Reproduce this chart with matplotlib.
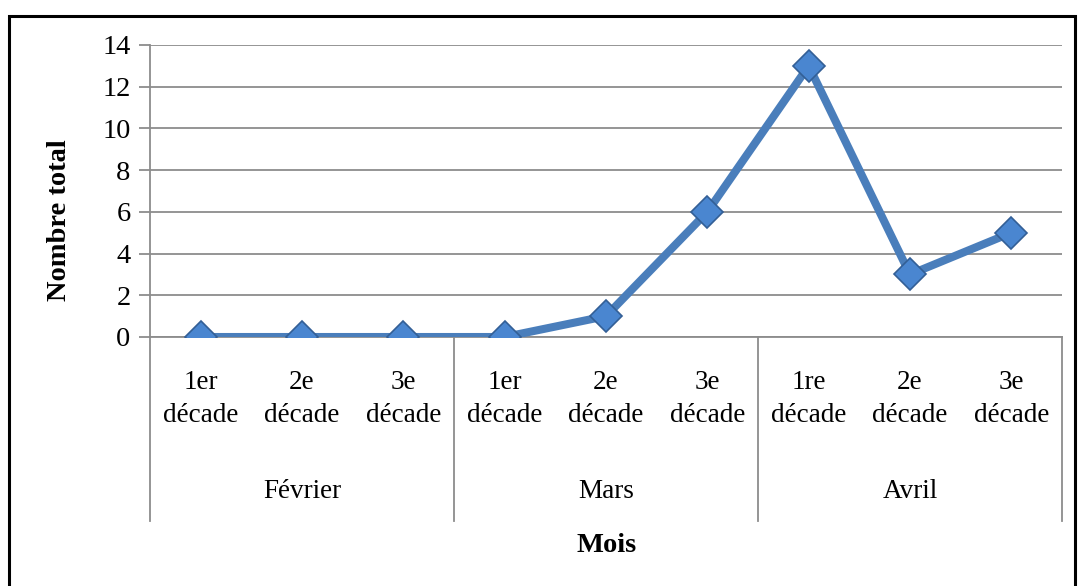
import matplotlib.pyplot as plt
import matplotlib.transforms as mtransforms
from matplotlib.patches import Rectangle

plt.rcParams["font.family"] = ["Liberation Serif", "DejaVu Serif"]

decades = ["1er\ndécade", "2e\ndécade", "3e\ndécade",
           "1er\ndécade", "2e\ndécade", "3e\ndécade",
           "1re\ndécade", "2e\ndécade", "3e\ndécade"]
months = ["Février", "Mars", "Avril"]
totals = [0, 0, 0, 0, 1, 6, 13, 3, 5]
y_ticks = [0, 2, 4, 6, 8, 10, 12, 14]

W, H = 1078, 586
fig = plt.figure(figsize=(W / 100, H / 100), dpi=100)
ax = fig.add_axes([150 / W, 1 - 337 / H, (1062 - 150) / W, (337 - 45) / H])

grid_col = "#8c8c8c"
x = list(range(len(totals)))
ax.plot(x, totals, color="#4a7ebb", lw=5.8, solid_joinstyle="miter",
        marker="D", ms=16, mfc="#4a86d0", mec="#335f96", mew=1.2, zorder=3)

ax.set_xlim(-0.5, len(totals) - 0.5)
ax.set_ylim(0, 14)
ax.set_yticks(y_ticks)
ax.set_xticks([])
ax.yaxis.grid(True, color=grid_col, lw=1.3)
ax.set_axisbelow(True)
for s in ["top", "right"]:
    ax.spines[s].set_visible(False)
ax.spines["left"].set_color(grid_col)
ax.spines["bottom"].set_color(grid_col)
ax.spines["left"].set_linewidth(1.3)
ax.spines["bottom"].set_linewidth(1.3)
ax.tick_params(axis="y", colors=grid_col, length=8, width=1.3, labelsize=20.5,
               labelcolor="black", pad=6)

# multi-level category axis
trans = mtransforms.blended_transform_factory(ax.transData, fig.transFigure)
for i, lab in enumerate(decades):
    ax.text(i, 1 - 399 / H, lab, transform=trans, ha="center", va="center",
            fontsize=19.5, linespacing=1.4)
for j, m in enumerate(months):
    ax.text(3 * j + 1, 1 - 491 / H, m, transform=trans, ha="center",
            va="center", fontsize=19.5)
for xb in [-0.5, 2.5, 5.5, 8.5]:
    ax.plot([xb, xb], [1 - 337 / H, 1 - 521 / H], transform=trans,
            color=grid_col, lw=1.3, clip_on=False)

fig.text(607 / W, 1 - 545 / H, "Mois", ha="center", va="center",
         fontsize=20.5, fontweight="bold")
fig.text(60 / W, 1 - 220 / H, "Nombre total", ha="center", va="center",
         rotation=90, fontsize=20.5, fontweight="bold")

fig.patches.append(Rectangle((9 / W, -0.02), (1075 - 9) / W, 1.02 - 16 / H,
                             transform=fig.transFigure, fill=False,
                             ec="black", lw=2.2))

fig.savefig("out.png", dpi=100)
